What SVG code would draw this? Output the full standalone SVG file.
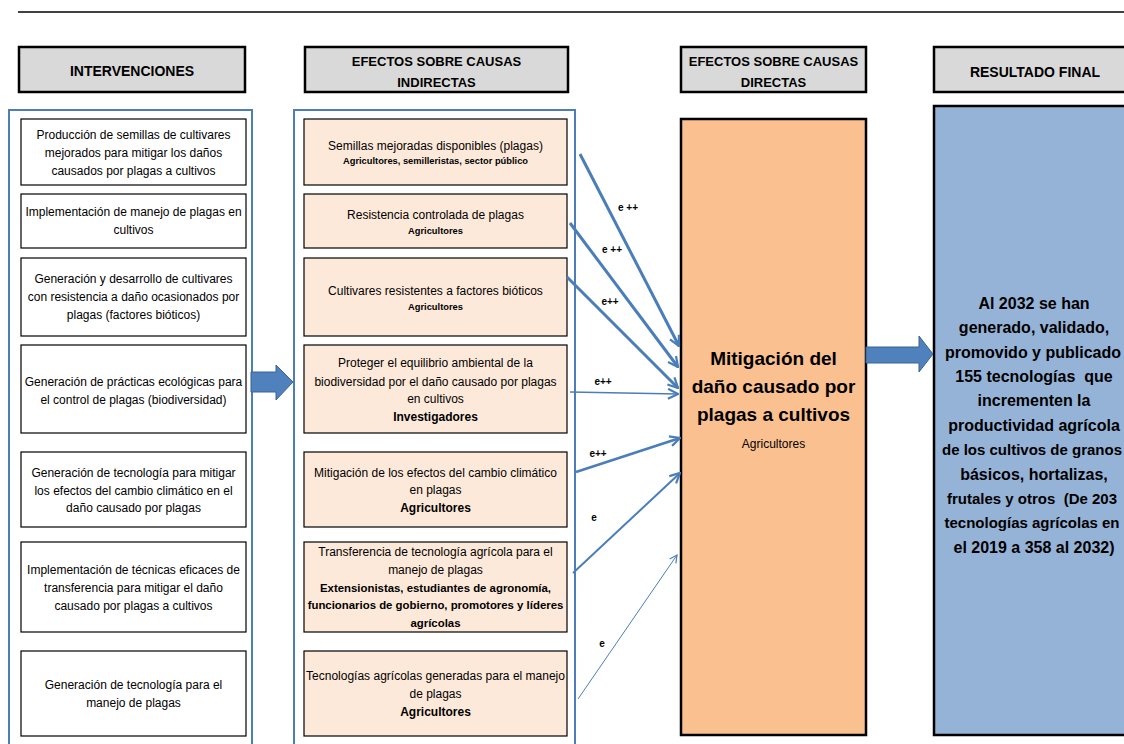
<svg xmlns="http://www.w3.org/2000/svg" width="1124" height="744" viewBox="0 0 1124 744">
<style>
text{font-family:"Liberation Sans",Arial,sans-serif;fill:#000;text-anchor:middle}
.hdr{fill:#d9d9d9;stroke:#000;stroke-width:2.5}
.hdrt{font-size:13px;font-weight:bold}
.hdr1{font-size:14px;font-weight:bold}
.cont{fill:none;stroke:#4f7db8;stroke-width:2}
.lbox{fill:#fff;stroke:#000;stroke-width:1.2}
.mbox{fill:#fde9d9;stroke:#000;stroke-width:1.2}
.t{font-size:12px}
.b{font-size:12px;font-weight:bold}
.b2{font-size:11.4px;font-weight:bold}
.s{font-size:9.3px;font-weight:bold}
.con{fill:none;stroke:#4a7ebb}
.lab{font-size:10px;font-weight:bold}
.blk{fill:#4f81bd;stroke:#3a6396;stroke-width:1}
.big{font-size:19px;font-weight:bold}
.res{font-size:16px;font-weight:bold}
.res2{font-size:15px;font-weight:bold}
</style>
<defs>
<marker id="ah" viewBox="0 0 12 12" refX="11" refY="6" markerWidth="12" markerHeight="12" markerUnits="userSpaceOnUse" orient="auto">
<path d="M1,1 L11,6 L1,11" fill="none" stroke="#4a7ebb" stroke-width="2.2"/>
</marker>
<marker id="ahs" viewBox="0 0 12 12" refX="11" refY="6" markerWidth="9" markerHeight="9" markerUnits="userSpaceOnUse" orient="auto">
<path d="M1,1 L11,6 L1,11" fill="none" stroke="#4a7ebb" stroke-width="1.6"/>
</marker>
</defs>
<rect width="1124" height="744" fill="#fff"/>
<line x1="18" y1="12" x2="1124" y2="12" stroke="#000" stroke-width="1.5"/>

<g id="header-intervenciones">
<rect class="hdr" x="19" y="47" width="226" height="45"/>
<text class="hdr1" x="132" y="76">INTERVENCIONES</text>
</g>
<g id="header-indirectas">
<rect class="hdr" x="305" y="47" width="263" height="45"/>
<text class="hdrt" x="436.5" y="66">EFECTOS SOBRE CAUSAS</text>
<text class="hdrt" x="436.5" y="87">INDIRECTAS</text>
</g>
<g id="header-directas">
<rect class="hdr" x="681" y="47" width="185" height="45"/>
<text class="hdrt" x="773.5" y="66">EFECTOS SOBRE CAUSAS</text>
<text class="hdrt" x="773.5" y="87">DIRECTAS</text>
</g>
<g id="header-resultado">
<rect class="hdr" x="934" y="47" width="210" height="45"/>
<text class="hdr1" x="1035" y="77">RESULTADO FINAL</text>
</g>

<g id="intervenciones">
<rect class="cont" x="9" y="110" width="243" height="660"/>
<g id="int1"><rect class="lbox" x="21" y="119" width="225" height="66"/>
<text class="t" x="133.5" y="139">Producción de semillas de cultivares</text>
<text class="t" x="133.5" y="157">mejorados para mitigar los daños</text>
<text class="t" x="133.5" y="175">causados por plagas a cultivos</text></g>
<g id="int2"><rect class="lbox" x="21" y="194" width="225" height="54"/>
<text class="t" x="133.5" y="216">Implementación de manejo de plagas en</text>
<text class="t" x="133.5" y="234">cultivos</text></g>
<g id="int3"><rect class="lbox" x="21" y="258" width="225" height="78"/>
<text class="t" x="133.5" y="283">Generación y desarrollo de cultivares</text>
<text class="t" x="133.5" y="301">con resistencia a daño ocasionados por</text>
<text class="t" x="133.5" y="319">plagas (factores bióticos)</text></g>
<g id="int4"><rect class="lbox" x="21" y="345" width="225" height="88"/>
<text class="t" x="133.5" y="386">Generación de prácticas ecológicas para</text>
<text class="t" x="133.5" y="404">el control de plagas (biodiversidad)</text></g>
<g id="int5"><rect class="lbox" x="21" y="452" width="225" height="75"/>
<text class="t" x="133.5" y="477">Generación de tecnología para mitigar</text>
<text class="t" x="133.5" y="495">los efectos del cambio climático en el</text>
<text class="t" x="133.5" y="512">daño causado por plagas</text></g>
<g id="int6"><rect class="lbox" x="21" y="542" width="225" height="90"/>
<text class="t" x="133.5" y="574">Implementación de técnicas eficaces de</text>
<text class="t" x="133.5" y="592">transferencia para mitigar el daño</text>
<text class="t" x="133.5" y="610">causado por plagas a cultivos</text></g>
<g id="int7"><rect class="lbox" x="21" y="651" width="225" height="85"/>
<text class="t" x="133.5" y="689">Generación de tecnología para el</text>
<text class="t" x="133.5" y="707">manejo de plagas</text></g>
</g>

<g id="indirectas">
<rect class="cont" x="294" y="110" width="281" height="660"/>
<g id="ind1"><rect class="mbox" x="304" y="119" width="263" height="66"/>
<text class="t" x="435.5" y="150">Semillas mejoradas disponibles (plagas)</text>
<text class="s" x="435.5" y="164">Agricultores, semilleristas, sector público</text></g>
<g id="ind2"><rect class="mbox" x="304" y="194" width="263" height="54"/>
<text class="t" x="435.5" y="219">Resistencia controlada de plagas</text>
<text class="s" x="435.5" y="234">Agricultores</text></g>
<g id="ind3"><rect class="mbox" x="304" y="258" width="263" height="78"/>
<text class="t" x="435.5" y="295">Cultivares resistentes a factores bióticos</text>
<text class="s" x="435.5" y="310">Agricultores</text></g>
<g id="ind4"><rect class="mbox" x="304" y="345" width="263" height="88"/>
<text class="t" x="435.5" y="367">Proteger el equilibrio ambiental de la</text>
<text class="t" x="435.5" y="386">biodiversidad por el daño causado por plagas</text>
<text class="t" x="435.5" y="403">en cultivos</text>
<text class="b" x="435.5" y="421">Investigadores</text></g>
<g id="ind5"><rect class="mbox" x="304" y="452" width="263" height="75"/>
<text class="t" x="435.5" y="477">Mitigación de los efectos del cambio climático</text>
<text class="t" x="435.5" y="494">en plagas</text>
<text class="b" x="435.5" y="512">Agricultores</text></g>
<g id="ind6"><rect class="mbox" x="304" y="542" width="263" height="90"/>
<text class="t" x="435.5" y="556">Transferencia de tecnología agrícola para el</text>
<text class="t" x="435.5" y="574">manejo de plagas</text>
<text class="b2" x="435.5" y="592">Extensionistas, estudiantes de agronomía,</text>
<text class="b2" x="435.5" y="609">funcionarios de gobierno, promotores y líderes</text>
<text class="b2" x="435.5" y="627">agrícolas</text></g>
<g id="ind7"><rect class="mbox" x="304" y="651" width="263" height="85"/>
<text class="t" x="435.5" y="680">Tecnologías agrícolas generadas para el manejo</text>
<text class="t" x="435.5" y="698">de plagas</text>
<text class="b" x="435.5" y="716">Agricultores</text></g>
</g>

<g id="directas">
<rect x="681" y="119" width="185" height="616" fill="#fac090" stroke="#000" stroke-width="2.5"/>
<text class="big" x="773.5" y="365">Mitigación del</text>
<text class="big" x="773.5" y="393">daño causado por</text>
<text class="big" x="773.5" y="421">plagas a cultivos</text>
<text class="t" x="773.5" y="448">Agricultores</text>
</g>

<g id="resultado">
<rect x="934" y="106" width="210" height="629" fill="#95b3d7" stroke="#000" stroke-width="2.5"/>
<text class="res" x="1034" y="308.5">Al 2032 se han</text>
<text class="res" x="1034" y="333">generado, validado,</text>
<text class="res" x="1033" y="357.5">promovido y publicado</text>
<text class="res" x="1034" y="382">155 tecnologías&#160; que</text>
<text class="res" x="1034" y="406">incrementen la</text>
<text class="res" x="1034" y="430.5">productividad agrícola</text>
<text class="res2" x="1032" y="455">de los cultivos de granos</text>
<text class="res" x="1034" y="479.5">básicos, hortalizas,</text>
<text class="res2" x="1032" y="504">frutales y otros&#160; (De 203</text>
<text class="res2" x="1032" y="528">tecnologías agrícolas en</text>
<text class="res" x="1034" y="552.5">el 2019 a 358 al 2032)</text>
</g>

<g id="connectors">
<path class="blk" d="M251,372 H276 V365 L293,382 L276,400 V392 H251 Z"/>
<path class="blk" d="M866,347 H919 V336 L933,354 L919,372 V363 H866 Z"/>
<line class="con" x1="580" y1="154" x2="679" y2="346" stroke-width="3" marker-end="url(#ah)"/>
<line class="con" x1="570" y1="223" x2="678" y2="367" stroke-width="3" marker-end="url(#ah)"/>
<line class="con" x1="567" y1="277" x2="678" y2="388" stroke-width="3" marker-end="url(#ah)"/>
<line class="con" x1="570" y1="392" x2="678" y2="394" stroke-width="1.5" marker-end="url(#ah)"/>
<line class="con" x1="576" y1="472" x2="680" y2="438" stroke-width="2.6" marker-end="url(#ah)"/>
<line class="con" x1="573" y1="573" x2="680" y2="473" stroke-width="2" marker-end="url(#ah)"/>
<line class="con" x1="578" y1="699" x2="677" y2="555" stroke-width="1" marker-end="url(#ahs)"/>
<text class="lab" x="628" y="211">e ++</text>
<text class="lab" x="612" y="253">e ++</text>
<text class="lab" x="610" y="305">e++</text>
<text class="lab" x="603" y="385">e++</text>
<text class="lab" x="598" y="457">e++</text>
<text class="lab" x="594" y="521">e</text>
<text class="lab" x="602" y="647">e</text>
</g>
</svg>
